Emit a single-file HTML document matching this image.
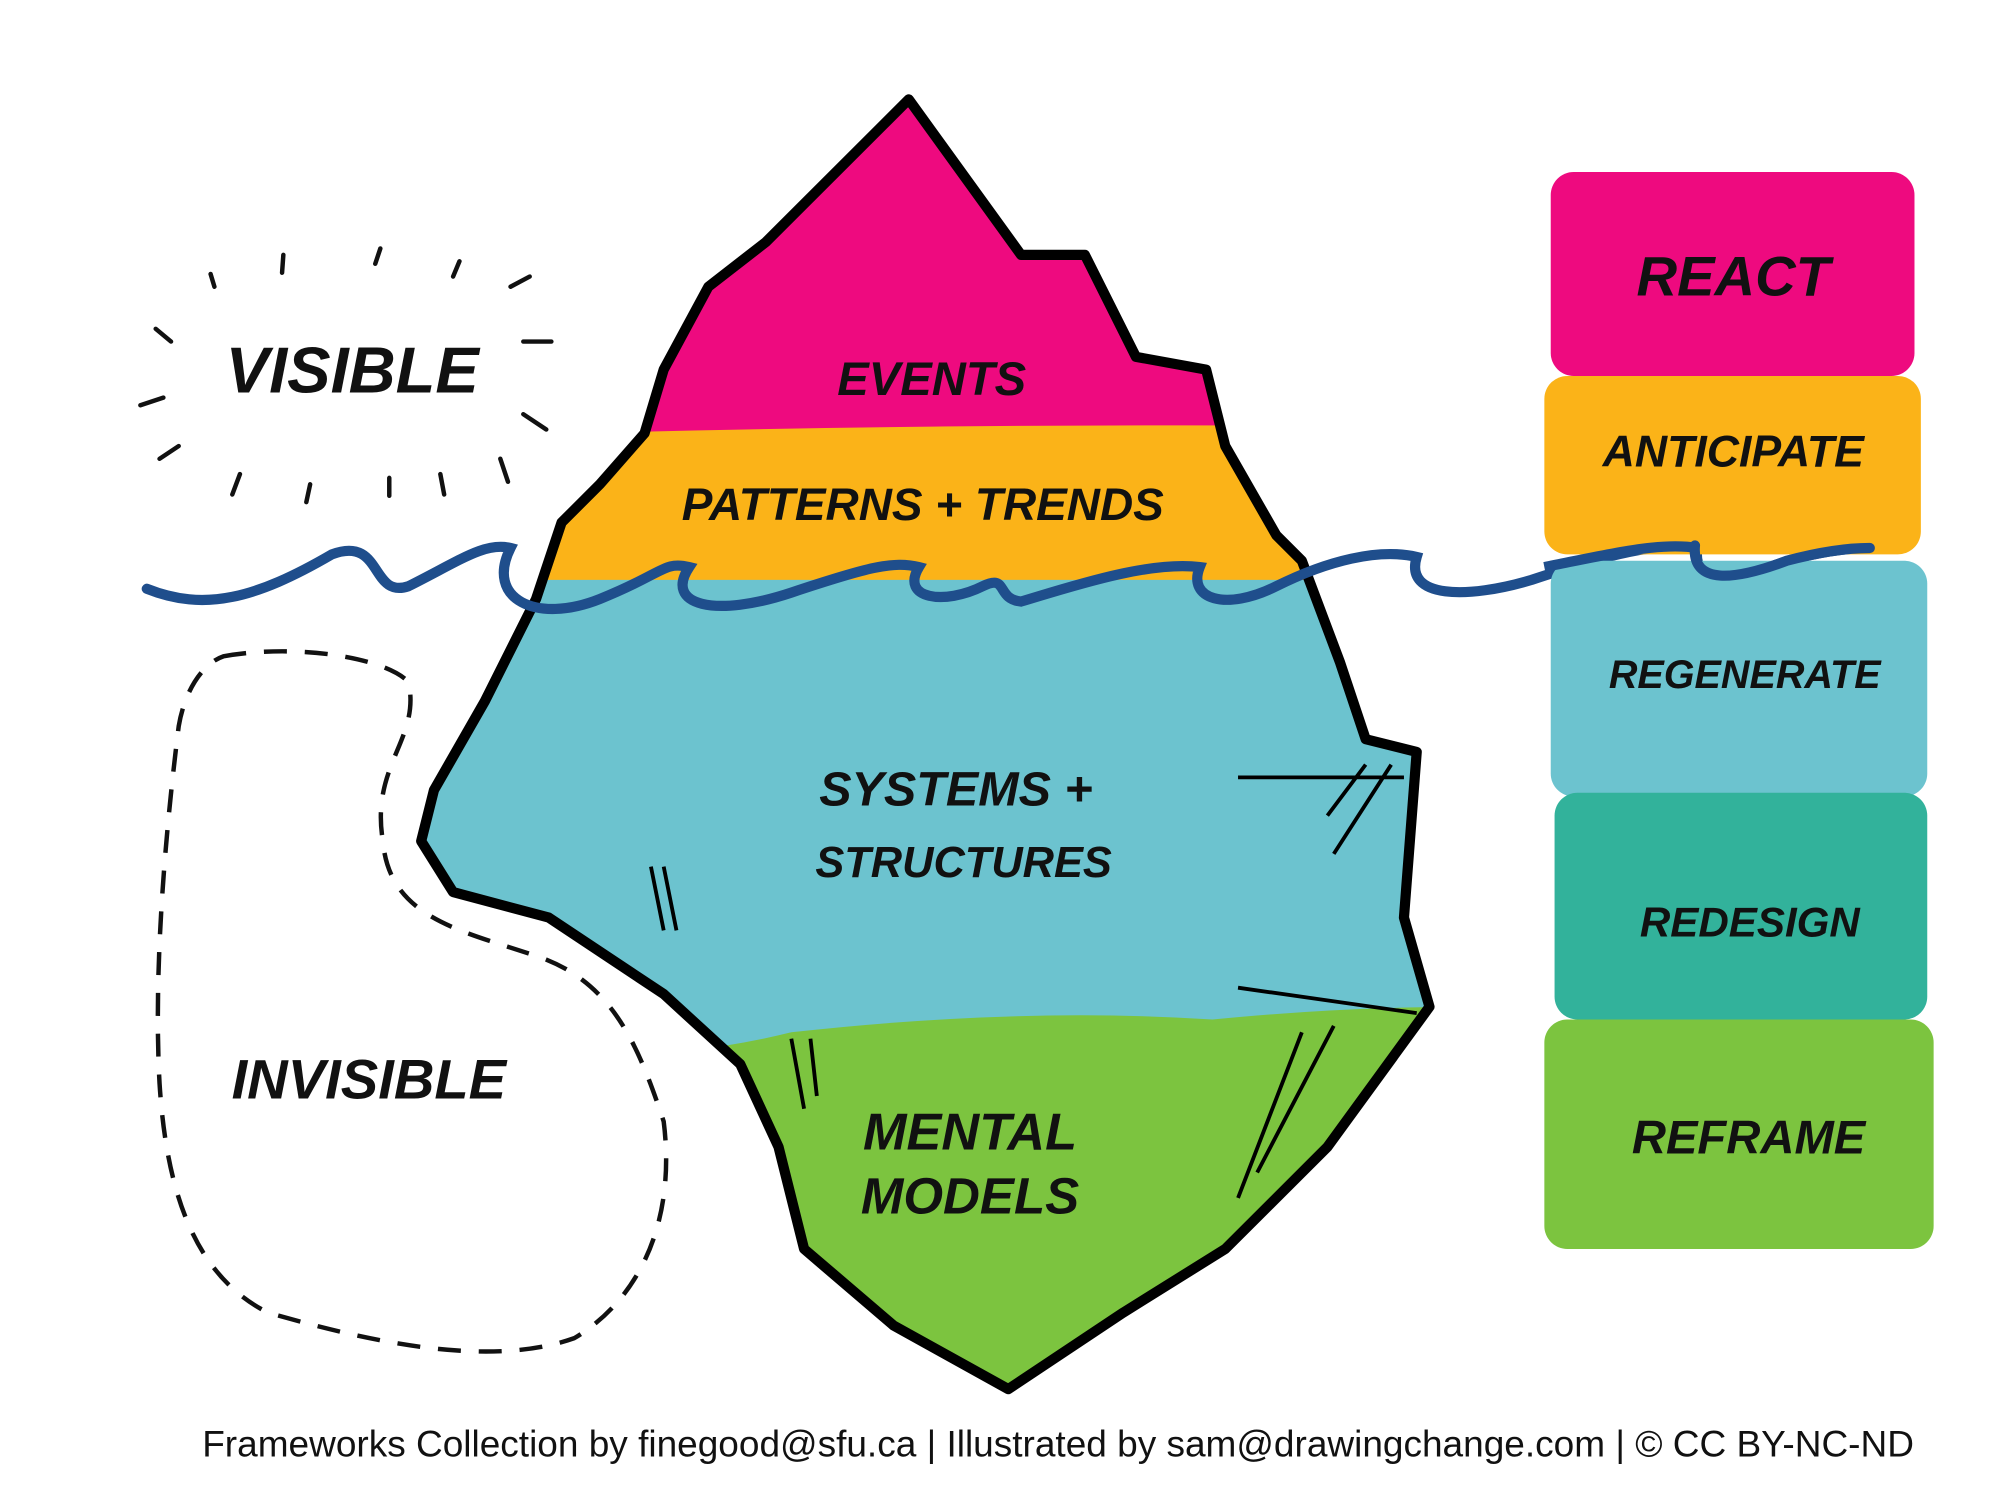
<!DOCTYPE html>
<html><head><meta charset="utf-8"><style>
html,body{margin:0;padding:0;background:#fff;}
svg{display:block;}
text{font-family:"Liberation Sans",sans-serif;}
.h{font-weight:bold;font-style:italic;fill:#111;}
</style></head><body>
<svg width="2000" height="1500" viewBox="0 0 1567 1177" preserveAspectRatio="none" xmlns="http://www.w3.org/2000/svg">
<defs>
<clipPath id="ice">
<polygon points="712,78 600,190 555,225 520,290 505,340 470,380 440,410 420,470 380,550 340,620 330,660 355,700 430,720 520,780 580,835 610,900 630,980 700,1040 790,1090 880,1030 960,980 1040,900 1120,790 1100,720 1110,590 1070,580 1050,520 1020,440 1000,420 960,350 945,290 890,280 850,200 800,200"/>
</clipPath>
</defs>
<g clip-path="url(#ice)">
<rect x="300" y="60" width="850" height="285" fill="#ee0a7f"/>
<path d="M300,345 Q700,330 1150,335 L1150,460 L300,460Z" fill="#fbb318"/>
<rect x="300" y="455" width="850" height="370" fill="#6cc3cf"/>
<path d="M300,830 Q500,840 620,810 Q800,790 950,800 Q1050,790 1150,790 L1150,1100 L300,1100Z" fill="#7cc43f"/>
</g>
<polygon points="712,78 600,190 555,225 520,290 505,340 470,380 440,410 420,470 380,550 340,620 330,660 355,700 430,720 520,780 580,835 610,900 630,980 700,1040 790,1090 880,1030 960,980 1040,900 1120,790 1100,720 1110,590 1070,580 1050,520 1020,440 1000,420 960,350 945,290 890,280 850,200 800,200" fill="none" stroke="#000" stroke-width="8" stroke-linejoin="round"/>
<g stroke="#000" stroke-width="3" fill="none">
<path d="M970,610 L1100,610 M1040,640 L1070,600 M1045,670 L1090,600 M520,680 L530,730 M510,680 L520,730 M970,775 L1110,795 M970,940 L1020,810 M985,920 L1045,805 M620,815 L630,870 M635,815 L640,860"/>
</g>
<path d="M115,462 C160,480 200,470 260,435 C300,420 290,470 320,460 C360,440 380,425 400,430 C380,470 420,490 470,470 C520,450 520,440 540,445 C520,475 560,485 620,465 C680,445 700,440 720,445 C705,470 740,475 770,460 C790,450 780,470 800,472 C840,460 900,440 940,445 C930,470 960,480 1000,460 C1040,440 1080,430 1110,437 C1100,470 1150,470 1200,455 C1260,435 1300,425 1330,430 C1325,460 1360,455 1400,440 C1430,432 1450,430 1465,430" fill="none" stroke="#1f4e8c" stroke-width="8" stroke-linecap="round"/>
<rect x="1215" y="135" width="285" height="160" rx="18" fill="#ee0a7f"/>
<rect x="1210" y="295" width="295" height="140" rx="18" fill="#fbb318"/>
<rect x="1215" y="440" width="295" height="185" rx="18" fill="#6cc3cf"/>
<rect x="1218" y="622" width="292" height="178" rx="18" fill="#32b29b"/>
<rect x="1210" y="800" width="305" height="180" rx="18" fill="#7cc43f"/>
<path d="M1328,428 C1325,460 1360,455 1400,440 C1430,432 1450,430 1465,430" fill="none" stroke="#1f4e8c" stroke-width="8" stroke-linecap="round"/>
<path d="M1210,445 C1260,435 1300,425 1330,430" fill="none" stroke="#1f4e8c" stroke-width="8"/>
<g class="h" text-anchor="middle">
<text x="1358" y="232" font-size="44">REACT</text>
<text x="1358" y="366" font-size="35">ANTICIPATE</text>
<text x="1367" y="540" font-size="31">REGENERATE</text>
<text x="1371" y="735" font-size="33">REDESIGN</text>
<text x="1370" y="905" font-size="37">REFRAME</text>
<text x="730" y="310" font-size="37">EVENTS</text>
<text x="723" y="408" font-size="36">PATTERNS + TRENDS</text>
<text x="749" y="632" font-size="38">SYSTEMS +</text>
<text x="755" y="688" font-size="34">STRUCTURES</text>
<text x="760" y="902" font-size="41">MENTAL</text>
<text x="760" y="952" font-size="40">MODELS</text>
<text x="276" y="308" font-size="51">VISIBLE</text>
<text x="289" y="862" font-size="44">INVISIBLE</text>
</g>
<g stroke="#111" stroke-width="3.5" stroke-linecap="round" fill="none">
<path d="M165,215 l3,10 M222,200 l-1,14 M298,195 l-4,12 M360,205 l-5,12 M400,225 l15,-8 M410,268 l22,0 M410,325 l18,12 M392,360 l6,18 M345,372 l3,16 M305,375 l0,14 M243,380 l-3,14 M188,372 l-6,16 M140,350 l-15,10 M128,312 l-18,6 M122,258 l12,10"/>
</g>
<path d="M175,515 C230,505 300,515 320,535 C330,580 290,600 300,660 C305,720 360,730 420,750 C480,770 500,820 520,880 C530,960 500,1020 450,1050 C380,1075 280,1050 210,1030 C150,1000 130,930 125,850 C120,760 130,650 140,570 C145,540 160,520 175,515Z" fill="none" stroke="#111" stroke-width="3.5" stroke-dasharray="18,14"/>
<text x="829" y="1143" font-size="29" text-anchor="middle" fill="#111">Frameworks Collection by finegood@sfu.ca | Illustrated by sam@drawingchange.com | © CC BY-NC-ND</text>
</svg>
</body></html>
